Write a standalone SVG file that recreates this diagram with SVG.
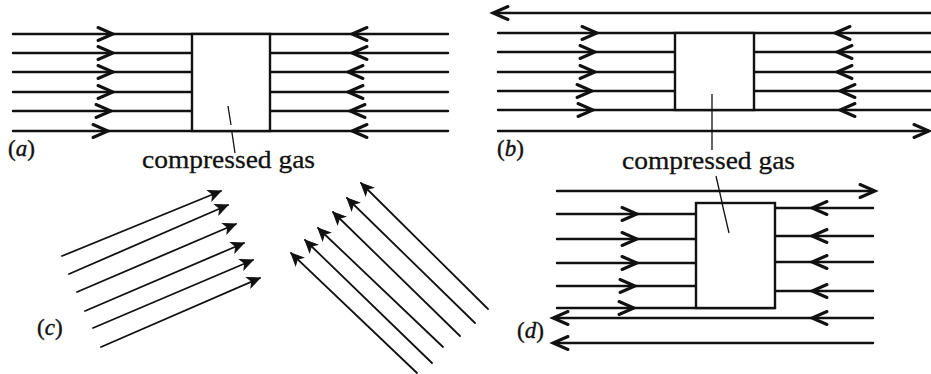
<svg xmlns="http://www.w3.org/2000/svg" width="931" height="374" viewBox="0 0 931 374">
<style>
.ln{stroke:#111;stroke-width:2.4;fill:none;stroke-linecap:round}
.thin{stroke:#111;stroke-width:1.8;fill:none;stroke-linecap:round}
.ptr{stroke:#111;stroke-width:1.3;fill:none}
.box{stroke:#111;stroke-width:2.4;fill:#fff}
.ah{fill:none;stroke:#111;stroke-width:3;stroke-linejoin:miter;stroke-linecap:round}
.ahs{fill:#111;stroke:#111;stroke-width:1;stroke-linejoin:miter}
.lbl{font-family:"Liberation Serif","Times New Roman",serif;font-size:26px;fill:#111;stroke:#111;stroke-width:0.3}
.pl{font-family:"Liberation Serif","Times New Roman",serif;font-size:23px;fill:#111;stroke:#111;stroke-width:0.4}
</style>
<defs>
<path id="ah" class="ah" d="M-15,-6.5 L0,0 L-15,6.5"/>
<path id="ahs" class="ahs" d="M0,0 L-12,-5.5 L-9,0 L-12,5.5 Z"/>
</defs>

<g id="connectors">
<g id="conn-a">
<path class="ln" d="M13,34H448 M13,53H192 M13,72H192 M13,92H192 M13,111H192 M13,131H448 M270,53H448 M270,72H448 M270,92H448 M270,111H448"/>
<use href="#ah" transform="translate(113,34)"/>
<use href="#ah" transform="translate(113,53)"/>
<use href="#ah" transform="translate(113,72)"/>
<use href="#ah" transform="translate(113,92)"/>
<use href="#ah" transform="translate(111,111)"/>
<use href="#ah" transform="translate(108,131)"/>
<use href="#ah" transform="translate(352,34) rotate(180)"/>
<use href="#ah" transform="translate(352,53) rotate(180)"/>
<use href="#ah" transform="translate(348,72) rotate(180)"/>
<use href="#ah" transform="translate(348,92) rotate(180)"/>
<use href="#ah" transform="translate(350,111) rotate(180)"/>
<use href="#ah" transform="translate(352,131) rotate(180)"/>
<path class="ptr" d="M228,106 L235,153"/>
</g>
<g id="conn-b">
<path class="ln" d="M494,13H931 M498,33H931 M498,52H675 M498,72H675 M498,91H675 M498,110H931 M754,52H931 M754,72H931 M754,91H931 M498,131H928"/>
<use href="#ah" transform="translate(493,13) rotate(180)"/>
<use href="#ah" transform="translate(929,131)"/>
<use href="#ah" transform="translate(597,33)"/>
<use href="#ah" transform="translate(595,52)"/>
<use href="#ah" transform="translate(595,72)"/>
<use href="#ah" transform="translate(592,91)"/>
<use href="#ah" transform="translate(593,110)"/>
<use href="#ah" transform="translate(835,33) rotate(180)"/>
<use href="#ah" transform="translate(837,52) rotate(180)"/>
<use href="#ah" transform="translate(837,72) rotate(180)"/>
<use href="#ah" transform="translate(840,91) rotate(180)"/>
<use href="#ah" transform="translate(840,110) rotate(180)"/>
<path class="ptr" d="M712,94 V150"/>
</g>
<g id="conn-c">
<path class="thin" d="M62,256 L221,191 M69,274 L228,205 M77,292 L236,224 M85,311 L244,243 M93,328 L253,260 M101,347 L260,278"/>
<use href="#ahs" transform="translate(221,191) rotate(-22.2)"/>
<use href="#ahs" transform="translate(228,205) rotate(-22.2)"/>
<use href="#ahs" transform="translate(236,224) rotate(-22.2)"/>
<use href="#ahs" transform="translate(244,243) rotate(-22.2)"/>
<use href="#ahs" transform="translate(253,260) rotate(-22.2)"/>
<use href="#ahs" transform="translate(260,278) rotate(-22.2)"/>
<path class="thin" d="M488,309 L361,183 M475,323 L347,198 M460,336 L333,212 M443,347 L318,228 M432,363 L305,240 M417,373 L291,253"/>
<use href="#ahs" transform="translate(361,183) rotate(-135)"/>
<use href="#ahs" transform="translate(347,198) rotate(-135)"/>
<use href="#ahs" transform="translate(333,212) rotate(-135)"/>
<use href="#ahs" transform="translate(318,228) rotate(-135)"/>
<use href="#ahs" transform="translate(305,240) rotate(-135)"/>
<use href="#ahs" transform="translate(291,253) rotate(-135)"/>
</g>
<g id="conn-d">
<path class="ln" d="M557,191H874 M557,214H696 M557,239H696 M557,263H696 M557,286H696 M557,308H775 M775,208H873 M775,236H873 M775,262H873 M775,291H873 M554,318H873 M554,343H873"/>
<use href="#ah" transform="translate(875,191)"/>
<use href="#ah" transform="translate(637,214)"/>
<use href="#ah" transform="translate(637,239)"/>
<use href="#ah" transform="translate(637,263)"/>
<use href="#ah" transform="translate(635,286)"/>
<use href="#ah" transform="translate(634,308)"/>
<use href="#ah" transform="translate(812,208) rotate(180)"/>
<use href="#ah" transform="translate(812,236) rotate(180)"/>
<use href="#ah" transform="translate(812,262) rotate(180)"/>
<use href="#ah" transform="translate(812,291) rotate(180)"/>
<use href="#ah" transform="translate(812,318) rotate(180)"/>
<use href="#ah" transform="translate(553,318) rotate(180)"/>
<use href="#ah" transform="translate(553,343) rotate(180)"/>
<path class="ptr" d="M716,176 L729,233"/>
</g>
</g>

<g id="box-a"><rect class="box" x="192" y="34" width="78" height="97"/><path class="ptr" d="M228,106 L231,125"/></g>
<g id="box-b"><rect class="box" x="675" y="33" width="79" height="77"/><path class="ptr" d="M712,94 V110"/></g>
<g id="box-d"><rect class="box" x="696" y="203" width="79" height="105"/><path class="ptr" d="M722,203 L729,233"/></g>

<g id="labels">
<text class="lbl" x="142" y="168" textLength="173" lengthAdjust="spacingAndGlyphs">compressed gas</text>
<text class="lbl" x="622" y="169" textLength="173" lengthAdjust="spacingAndGlyphs">compressed gas</text>
<text class="pl" x="8" y="156">(<tspan font-style="italic">a</tspan>)</text>
<text class="pl" x="497" y="156">(<tspan font-style="italic">b</tspan>)</text>
<text class="pl" x="37" y="335">(<tspan font-style="italic">c</tspan>)</text>
<text class="pl" x="517" y="338">(<tspan font-style="italic">d</tspan>)</text>
</g>
</svg>
